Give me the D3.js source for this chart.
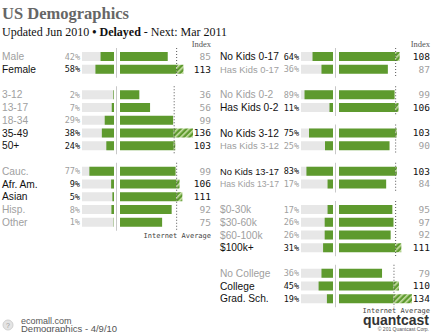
<!DOCTYPE html>
<html><head><meta charset="utf-8">
<script src="https://cdn.jsdelivr.net/npm/d3@7"></script>
<style>body{margin:0;background:#fff}svg{display:block}</style>
</head><body>
<svg id="c" width="436" height="332"></svg>
<script>
// ---- data ----
const genderLabels = ["Male", "Female"];
const genderPct = [42, 58];
const genderIndex = [85, 113];
const ageLabels = ["3-12", "13-17", "18-34", "35-49", "50+"];
const agePct = [2, 7, 29, 38, 24];
const ageIndex = [36, 56, 99, 136, 103];
const ethLabels = ["Cauc.", "Afr. Am.", "Asian", "Hisp.", "Other"];
const ethPct = [77, 9, 5, 8, 1];
const ethIndex = [99, 106, 111, 92, 75];
const kids017Labels = ["No Kids 0-17", "Has Kids 0-17"];
const kids017Pct = [64, 36];
const kids017Index = [108, 87];
const kids02Labels = ["No Kids 0-2", "Has Kids 0-2"];
const kids02Pct = [89, 11];
const kids02Index = [99, 106];
const kids312Labels = ["No Kids 3-12", "Has Kids 3-12"];
const kids312Pct = [75, 25];
const kids312Index = [103, 90];
const kids1317Labels = ["No Kids 13-17", "Has Kids 13-17"];
const kids1317Pct = [83, 17];
const kids1317Index = [103, 84];
const incomeLabels = ["$0-30k", "$30-60k", "$60-100k", "$100k+"];
const incomePct = [17, 26, 26, 31];
const incomeIndex = [95, 97, 92, 111];
const eduLabels = ["No College", "College", "Grad. Sch."];
const eduPct = [36, 45, 19];
const eduIndex = [79, 110, 134];

// groups: panel and starting row
const groups = [
  {panel: 0, row: 0, labels: genderLabels, pct: genderPct, idx: genderIndex},
  {panel: 0, row: 3, labels: ageLabels, pct: agePct, idx: ageIndex},
  {panel: 0, row: 9, labels: ethLabels, pct: ethPct, idx: ethIndex},
  {panel: 1, row: 0, labels: kids017Labels, pct: kids017Pct, idx: kids017Index},
  {panel: 1, row: 3, labels: kids02Labels, pct: kids02Pct, idx: kids02Index},
  {panel: 1, row: 6, labels: kids312Labels, pct: kids312Pct, idx: kids312Index},
  {panel: 1, row: 9, labels: kids1317Labels, pct: kids1317Pct, idx: kids1317Index},
  {panel: 1, row: 12, labels: incomeLabels, pct: incomePct, idx: incomeIndex},
  {panel: 1, row: 17, labels: eduLabels, pct: eduPct, idx: eduIndex}
];

// ---- layout ----
const panels = [
  {labelX: 2, pctRight: 80, trackX: 82, sepX: 116.5, barX: 120, idxRight: 211, avgY: 236},
  {labelX: 220, pctRight: 299, trackX: 301, sepX: 335.5, barX: 339, idxRight: 430, avgY: 311}
];
const GREEN = "#5e9a2e", TRACK = "#e7e7e7", DARK = "#111", LIGHT = "#a0a0a0";
const rowY = d3.scaleLinear().domain([0, 1]).range([56.5, 69.25]);
const pctW = d3.scaleLinear().domain([0, 100]).range([0, 32]);
const BH = 9, LABEL_FS = 10.2, LABEL_MAXW = 59;

const svg = d3.select("#c");
const defs = svg.append("defs");
const pat = defs.append("pattern").attr("id", "hatch").attr("patternUnits", "userSpaceOnUse")
  .attr("width", 4).attr("height", 4).attr("patternTransform", "rotate(45)");
pat.append("rect").attr("width", 4).attr("height", 4).attr("fill", GREEN);
pat.append("rect").attr("x", 0).attr("width", 1.6).attr("height", 4).attr("fill", "#c9e0a6");

// title
svg.append("text").attr("x", 2).attr("y", 19)
  .attr("font-family", "Liberation Serif").attr("font-weight", "bold").attr("font-size", 16.5)
  .attr("fill", "#666").text("US Demographics");
const sub = svg.append("text").attr("x", 2).attr("y", 36)
  .attr("font-family", "Liberation Serif").attr("font-size", 12).attr("fill", "#111");
sub.append("tspan").text("Updated Jun 2010 ");
sub.append("tspan").attr("font-weight", "bold").text("• Delayed");
sub.append("tspan").text(" - Next: Mar 2011");

// headers
panels.forEach(p => {
  svg.append("text").attr("x", p.idxRight).attr("y", 47).attr("text-anchor", "end")
    .attr("font-family", "Liberation Serif").attr("font-size", 8.5).attr("fill", "#555").text("Index");
  svg.append("text").attr("x", p.idxRight).attr("y", p.avgY).attr("dy", "0.35em").attr("text-anchor", "end")
    .attr("font-family", "DejaVu Sans Mono").attr("font-size", 7).attr("fill", "#444").text("Internet Average");
});

groups.forEach(g => {
  const p = panels[g.panel];
  const n = g.labels.length;
  const maxV = d3.max(g.idx);
  const ix = d3.scaleLinear().domain([0, Math.max(130, maxV)]).range([0, 73]);
  const top = rowY(g.row) - BH / 2 - 4;
  const bot = rowY(g.row + n - 1) + BH / 2 + 4;
  const gg = svg.append("g");
  gg.append("line").attr("x1", p.sepX).attr("x2", p.sepX).attr("y1", top).attr("y2", bot)
    .attr("stroke", "#c8c8c8").attr("stroke-width", 1);
  const rows = g.labels.map((l, i) => ({label: l, pct: g.pct[i], idx: g.idx[i], y: rowY(g.row + i)}));
  rows.forEach(r => {
    const col = r.idx > 100 ? DARK : LIGHT;
    const lt = gg.append("text").attr("x", p.labelX).attr("y", r.y).attr("dy", "0.36em")
      .attr("font-family", "Liberation Sans").attr("font-size", LABEL_FS).attr("fill", col).text(r.label);
    const w = lt.node().getComputedTextLength();
    if (w > LABEL_MAXW) lt.attr("font-size", LABEL_FS * LABEL_MAXW / w);
    gg.append("text").attr("x", p.pctRight).attr("y", r.y).attr("dy", "0.36em").attr("text-anchor", "end")
      .attr("font-family", "DejaVu Sans Mono").attr("font-size", 8.5).attr("fill", col).text(r.pct + "%");
    gg.append("rect").attr("x", p.trackX).attr("y", r.y - BH / 2).attr("width", pctW(100)).attr("height", BH).attr("fill", TRACK);
    gg.append("rect").attr("x", p.trackX + pctW(100) - pctW(r.pct)).attr("y", r.y - BH / 2)
      .attr("width", pctW(r.pct)).attr("height", BH).attr("fill", GREEN);
    gg.append("rect").attr("x", p.barX).attr("y", r.y - BH / 2)
      .attr("width", ix(Math.min(100, r.idx))).attr("height", BH).attr("fill", GREEN);
    if (r.idx > 100) {
      gg.append("rect").attr("x", p.barX + ix(100)).attr("y", r.y - BH / 2)
        .attr("width", ix(r.idx) - ix(100)).attr("height", BH).attr("fill", "url(#hatch)");
    }
    gg.append("text").attr("x", p.idxRight).attr("y", r.y).attr("dy", "0.36em").attr("text-anchor", "end")
      .attr("font-family", "DejaVu Sans Mono").attr("font-size", 9.5).attr("fill", col).text(r.idx);
  });
  gg.append("line").attr("x1", p.barX + ix(100) + 0.5).attr("x2", p.barX + ix(100) + 0.5)
    .attr("y1", top).attr("y2", bot).attr("stroke", "#555").attr("stroke-width", 1).attr("stroke-dasharray", "1,2");
});

// quantcast logo
svg.append("text").attr("x", 429).attr("y", 325).attr("text-anchor", "end")
  .attr("font-family", "Liberation Sans").attr("font-weight", "bold").attr("font-size", 14.5)
  .attr("textLength", 66).attr("lengthAdjust", "spacingAndGlyphs").attr("fill", "#333").text("quantcast");
svg.append("text").attr("x", 429).attr("y", 331).attr("text-anchor", "end")
  .attr("font-family", "Liberation Sans").attr("font-size", 5).attr("fill", "#555").text("© 201  Quantcast Corp.");

// bottom-left source
svg.append("circle").attr("cx", 8).attr("cy", 325).attr("r", 5).attr("fill", "#e4e4e4").attr("stroke", "#d0d0d0");
svg.append("text").attr("x", 8).attr("y", 327.5).attr("text-anchor", "middle")
  .attr("font-family", "Liberation Sans").attr("font-size", 7).attr("fill", "#999").text("?");
svg.append("text").attr("x", 21).attr("y", 324).attr("font-family", "Liberation Sans")
  .attr("font-size", 9).attr("fill", "#555").text("ecomall.com");
svg.append("text").attr("x", 21).attr("y", 332).attr("font-family", "Liberation Sans")
  .attr("font-size", 9.5).attr("fill", "#555").text("Demographics - 4/9/10");
</script>
</body></html>
